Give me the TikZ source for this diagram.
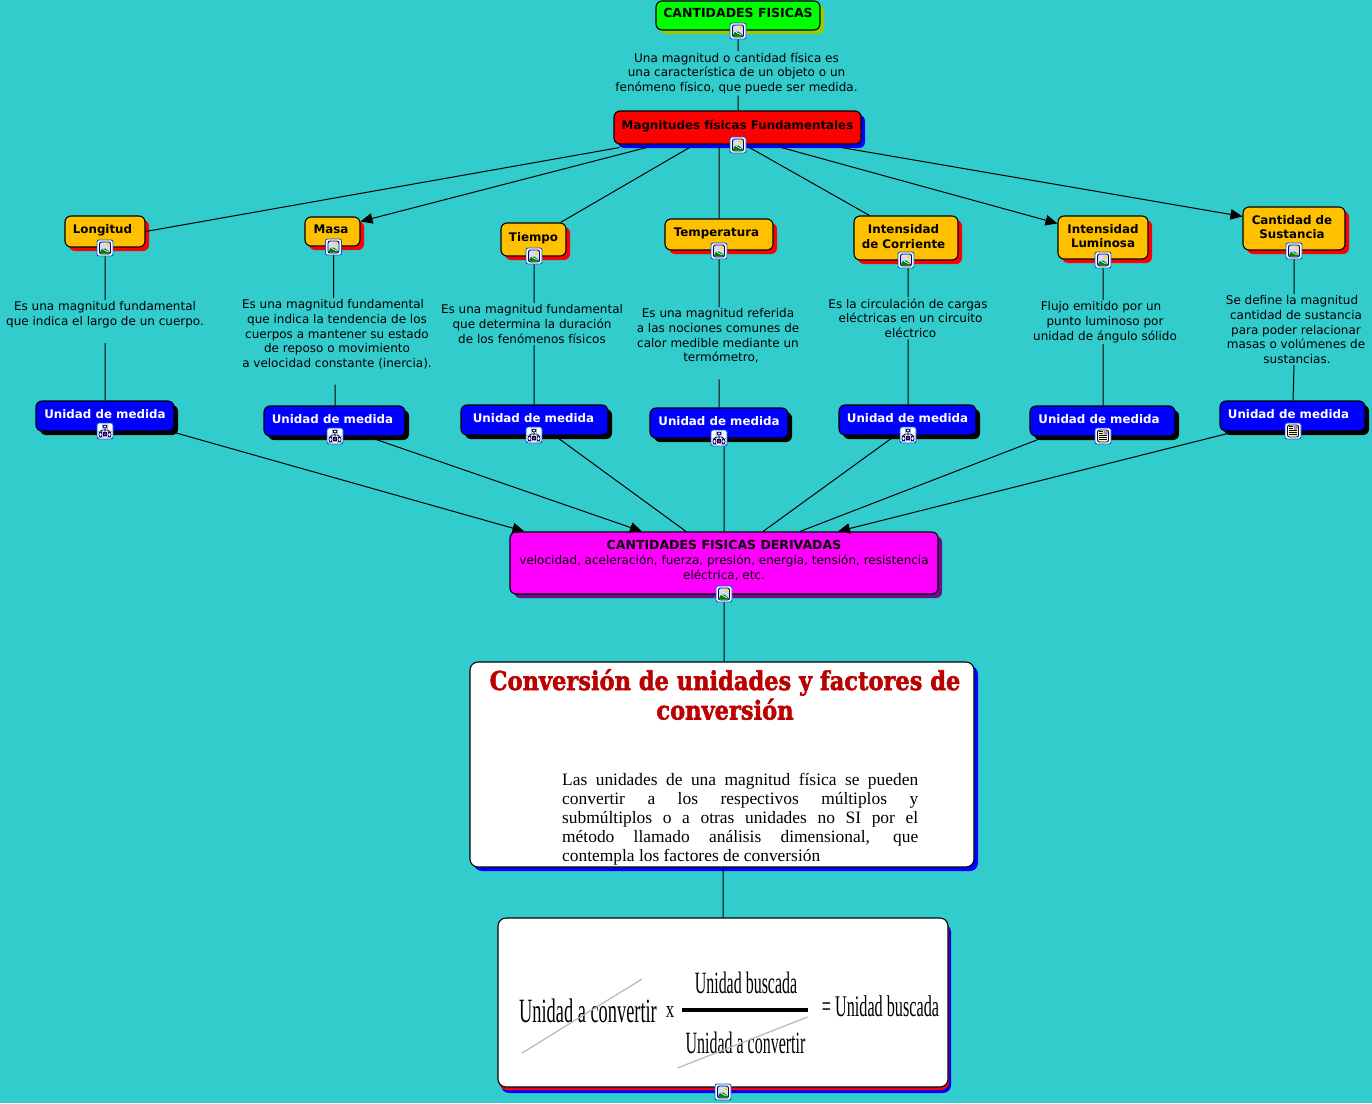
\documentclass[tikz,border=0pt]{standalone}
\usepackage{fontspec}
\setmainfont{DejaVu Sans}
\newfontfamily\seriffont{Liberation Serif}
\newfontfamily\titlefont[FakeBold=2]{DejaVu Serif Bold}
\usetikzlibrary{arrows.meta}
\usetikzlibrary{shadows}
\definecolor{bgteal}{HTML}{33CCCC}
\definecolor{conceptgold}{HTML}{FFC000}
\definecolor{titlered}{HTML}{BB0000}
\definecolor{limeshade}{HTML}{99CC00}
\definecolor{pinkbox}{HTML}{FF00FF}
\definecolor{purpleshade}{HTML}{6A0F8A}
\tikzset{
    concept/.style={
           rectangle,
           rounded corners=6pt,
           draw=black, line width=1.1pt,
           inner sep=0pt,
           align=center,
           text height=9pt, text depth=5pt,
           font=\fontsize{11.85}{14.6}\selectfont\bfseries,
           },
    castshadow/.style={
           general shadow={shadow xshift=4pt, shadow yshift=-4pt, fill=#1},
           },
    goldbox/.style={concept, fill=conceptgold, castshadow=red},
    twolines/.style={text height=23.6pt, text depth=3pt},
    unitbox/.style={concept, fill=blue, castshadow=black, text=white},
    whitebox/.style={concept, rounded corners=8pt, fill=white, castshadow=blue},
    note/.style={
           inner sep=1.5pt,
           anchor=north,
           align=center,
           font=\fontsize{12}{14.6}\selectfont,
           },
    link/.style={draw=black, line width=1pt},
    arrowlink/.style={link, -{Triangle[length=12pt,width=10.5pt]}},
    iconbox/.style={
           rectangle,
           rounded corners=2pt,
           draw=blue!55!cyan!80!black, fill=white, line width=0.9pt,
           minimum size=16pt,
           inner sep=0pt,
           },
    imgicon/.style={iconbox, path picture={
           \begin{scope}[shift={(path picture bounding box.center)}]
           \draw[fill=blue!15, draw=blue!40!black, line width=0.9pt] (-5.5,-6) rectangle (5.5,6);
           \fill[yellow!85!orange] (2.5,-3) circle (1.8);
           \fill[green!50!black] (-5,5.5) -- (-5,2.5) -- (-1,-0.5) -- (5,4) -- (5,5.5) -- cycle;
           \draw[white, line width=0.7pt] (-2.5,0.5) -- (0,3) -- (3,3.5);
           \end{scope}}},
    mapicon/.style={iconbox, path picture={
           \begin{scope}[shift={(path picture bounding box.center)}, draw=blue!40!black, line width=0.8pt]
           \draw (0,-3) -- (0,1.5) (-4.5,1) -- (-4.5,-1) -- (4.5,-1) -- (4.5,1);
           \draw[fill=white] (-2,-6) rectangle (2,-3);
           \draw[fill=white] (-6,1) rectangle (-3,6);
           \draw[fill=white] (3,1) rectangle (6,6);
           \draw[fill=orange!70!red] (-1.5,1.5) rectangle (1.5,5);
           \end{scope}}},
    docicon/.style={iconbox, path picture={
           \begin{scope}[shift={(path picture bounding box.center)}]
           \draw[fill=yellow!25, draw=blue!30!black, line width=0.9pt] (-5.5,-6) rectangle (5.5,6);
           \fill[blue!45] (0.5,-5.3) rectangle (4.7,-1);
           \fill[red!70] (2.5,-5.3) rectangle (4.7,-3.2);
           \draw[black, line width=0.8pt] (-4.2,-4.5) -- (-0.5,-4.5) (-4.2,-2.5) -- (-0.5,-2.5)
                 (-4.2,-0.5) -- (4.2,-0.5) (-4.2,1.5) -- (4.2,1.5) (-4.2,3.5) -- (4.2,3.5);
           \end{scope}}},
}

\begin{document}
\begin{tikzpicture}[x=1pt,y=-1pt]
      \fill[bgteal] (0,0) rectangle (1372,1103);
      \useasboundingbox (0,0) rectangle (1372,1103);

      % concepts, top
      \node[concept, fill=green, castshadow=limeshade, minimum width=164pt, minimum height=29pt, font=\fontsize{12.5}{14.6}\selectfont\bfseries] (cantidades) at (738,15.5) {CANTIDADES FISICAS};
      \node[concept, fill=red, castshadow=blue, minimum width=247pt, minimum height=33pt] (magnitudes) at (737.5,127.5) {Magnitudes físicas Fundamentales};
      \node[goldbox, minimum width=80pt, minimum height=31pt] (longitud) at (105,231.5) {Longitud\hspace*{5pt}};
      \node[goldbox, minimum width=55pt, minimum height=29pt] (masa) at (332.5,231.5) {Masa\hspace*{3pt}};
      \node[goldbox, minimum width=65pt, minimum height=33pt] (tiempo) at (533.5,239.5) {Tiempo};
      \node[goldbox, minimum width=108pt, minimum height=31pt] (temperatura) at (719,234.5) {Temperatura\hspace*{5pt}};
      \node[goldbox, twolines, minimum width=104pt, minimum height=44pt] (corriente) at (906,238) {Intensidad\hspace*{5pt}\\de Corriente\hspace*{5pt}};
      \node[goldbox, twolines, minimum width=90pt, minimum height=43pt] (luminosa) at (1103,237.5) {Intensidad\\Luminosa};
      \node[goldbox, twolines, minimum width=102pt, minimum height=43pt] (sustancia) at (1294,228.5) {Cantidad de\hspace*{4pt}\\Sustancia\hspace*{4pt}};

      % unidades
      \node[unitbox, minimum width=138pt, minimum height=30pt] (unidad1) at (105,416) {Unidad de medida};
      \node[unitbox, minimum width=141pt, minimum height=30pt] (unidad2) at (334.5,421) {Unidad de medida\hspace*{4pt}};
      \node[unitbox, minimum width=147pt, minimum height=30pt] (unidad3) at (534.5,420) {Unidad de medida\hspace*{2pt}};
      \node[unitbox, minimum width=138pt, minimum height=30pt] (unidad4) at (719,423) {Unidad de medida};
      \node[unitbox, minimum width=137pt, minimum height=30pt] (unidad5) at (907.5,420) {Unidad de medida};
      \node[unitbox, minimum width=145pt, minimum height=30pt] (unidad6) at (1102.5,421) {Unidad de medida\hspace*{7pt}};
      \node[unitbox, minimum width=145pt, minimum height=30pt] (unidad7) at (1292.5,416) {Unidad de medida\hspace*{8pt}};

      \node[concept, fill=pinkbox, castshadow=purpleshade, minimum width=428pt, minimum height=62pt] (derivadas) at (724,563) {};
      \node[note] (derivadastxt) at (724,539) {\fontsize{12.5}{14.6}\selectfont\textbf{CANTIDADES FISICAS DERIVADAS}\\\fontsize{12}{14.6}\selectfont velocidad, aceleración, fuerza, presión, energía, tensión, resistencia\\eléctrica, etc.};
      \node[whitebox, minimum width=504pt, minimum height=205pt] (conversion) at (722,764.5) {};
      \node[anchor=north, inner sep=0pt, align=center, text=titlered, xscale=0.867, transform shape, font=\titlefont\fontsize{26}{29.5}\selectfont] (convtitle) at (725,669) {Conversión de unidades y factores de\\conversión};
      \node[anchor=north west, inner sep=0pt, text width=356pt, align=justify, font=\seriffont\fontsize{17.4}{19}\selectfont] (convtext) at (562,773) {Las unidades de una magnitud física se pueden\linebreak convertir a los respectivos múltiplos y\linebreak submúltiplos o a otras unidades no SI por el\linebreak método llamado análisis dimensional, que\linebreak contempla los factores de conversión};
      \node[concept, rounded corners=8pt, fill=white, general shadow={shadow xshift=3pt, shadow yshift=-6pt, fill=blue}, general shadow={shadow xshift=1pt, shadow yshift=-3pt, fill=red}, minimum width=450pt, minimum height=169pt] (formula) at (723,1002.5) {};

      % notes
      \node[note] (magnitudtxt) at (736.5,51) {Una magnitud o cantidad física es\\una característica de un objeto o un\\fenómeno físico, que puede ser medida.};
      \node[note] (longitudtxt) at (105,300) {Es una magnitud fundamental\\que indica el largo de un cuerpo.\\[1.5pt]\mbox{}};
      \node[note] (masatxt) at (337,298) {Es una magnitud fundamental\hspace*{8pt}\\que indica la tendencia de los\hspace*{4pt}\\cuerpos a mantener su estado\hspace*{3pt}\\de reposo o movimiento\\a velocidad constante (inercia).\\[1pt]\mbox{}};
      \node[note] (tiempotxt) at (532,303) {Es una magnitud fundamental\\que determina la duración\\de los fenómenos físicos};
      \node[note] (temperaturatxt) at (718,307) {Es una magnitud referida\\a las nociones comunes de\hspace*{2pt}\\calor medible mediante un\hspace*{2pt}\\\hspace*{6pt}termómetro,\\[1.5pt]\mbox{}};
      \node[note] (corrientetxt) at (908,297) {Es la circulación de cargas\\\hspace*{5pt}eléctricas en un circuito\\\hspace*{5pt}eléctrico};
      \node[note] (luminosatxt) at (1105,300) {Flujo emitido por un\hspace*{8pt}\\punto luminoso por\hspace*{6pt}\\unidad de ángulo sólido};
      \node[note] (sustanciatxt) at (1296,294) {Se define la magnitud\hspace*{8pt}\\cantidad de sustancia\hspace*{7pt}\\para poder relacionar\hspace*{2pt}\\masas o volúmenes de\\\hspace*{2pt}sustancias.};

      % icons
      \node[imgicon] (icon0) at (738,31) {};
      \node[imgicon] (iconm) at (738,145) {};
      \node[imgicon] (icon1) at (105,248) {};
      \node[imgicon] (icon2) at (333.5,247) {};
      \node[imgicon] (icon3) at (534,256) {};
      \node[imgicon] (icon4) at (719,251) {};
      \node[imgicon] (icon5) at (906,260) {};
      \node[imgicon] (icon6) at (1103,260) {};
      \node[imgicon] (icon7) at (1294,251) {};
      \node[mapicon] (unit1) at (105,431) {};
      \node[mapicon] (unit2) at (335,436) {};
      \node[mapicon] (unit3) at (534,435) {};
      \node[mapicon] (unit4) at (719,438) {};
      \node[mapicon] (unit5) at (908,435) {};
      \node[docicon] (unit6) at (1103,436) {};
      \node[docicon] (unit7) at (1293,431) {};
      \node[imgicon] (icond) at (724,594) {};
      \node[imgicon] (iconf) at (723,1092) {};

      % formula
      \node[inner sep=0pt, font=\seriffont\fontsize{34}{34}\selectfont] (conv1) at (588,1011) {\scalebox{0.54}[1]{Unidad a convertir}};
      \node[inner sep=0pt, font=\seriffont\fontsize{24}{24}\selectfont] (por) at (670,1012) {\scalebox{0.7}[1]{x}};
      \node[inner sep=0pt, font=\seriffont\fontsize{31}{31}\selectfont] (busca1) at (746,983) {\scalebox{0.515}[1]{Unidad buscada}};
      \node[inner sep=0pt, font=\seriffont\fontsize{31}{31}\selectfont] (conv2) at (745.5,1043) {\scalebox{0.515}[1]{Unidad a convertir}};
      \node[inner sep=0pt, font=\seriffont\fontsize{30}{30}\selectfont] (busca2) at (880.5,1006) {\scalebox{0.54}[1]{= Unidad buscada}};
      \draw[black, line width=4pt] (682,1010) -- (808,1010);
      \draw[black!28, line width=1.2pt] ([shift={(3pt,-42pt)}]conv1.west) -- ([shift={(-15pt,32pt)}]conv1.east);
      \draw[black!28, line width=1.2pt] ([shift={(-8pt,-25pt)}]conv2.west) -- ([shift={(2pt,26pt)}]conv2.east);

      % links
      \path[link]
      (icon0) -- (magnitudtxt.north -| icon0)
      (magnitudtxt.south -| icon0) -- (magnitudes.north -| icon0)
      (icon1) -- (longitudtxt.north -| icon1)
      (longitudtxt.south -| icon1) -- (unidad1.north -| icon1)
      (icon2) -- (masatxt.north -| icon2)
      (masatxt.south -| unit2) -- (unidad2.north -| unit2)
      (icon3) -- (tiempotxt.north -| icon3)
      (tiempotxt.south -| icon3) -- (unidad3.north -| icon3)
      (icon4) -- (temperaturatxt.north -| icon4)
      (temperaturatxt.south -| icon4) -- (unidad4.north -| icon4)
      (icon5.south -| corrientetxt) -- (corrientetxt)
      (corrientetxt) -- (unidad5.north -| corrientetxt)
      (icon6) -- (luminosatxt.north -| icon6)
      (luminosatxt.south -| icon6) -- (unidad6.north -| icon6)
      (icon7) -- (sustanciatxt.north -| icon7)
      (sustanciatxt.south -| icon7) -- (unidad7.north -| unit7)
      (icond) -- (conversion.north -| icond)
      (conversion.south -| iconf) -- (formula.north -| iconf)
      ([shift={(6pt,-3pt)}]magnitudes.south west) -- (longitud.east)
      ([shift={(76pt,-3pt)}]magnitudes.south west) -- ([xshift=-6pt]tiempo.north east)
      ([shift={(-18.5pt,-3pt)}]magnitudes.south) -- (temperatura.north)
      ([shift={(12pt,-3pt)}]magnitudes.south) -- ([xshift=16pt]corriente.north west)
      ([shift={(21.5pt,-1pt)}]unidad3.south) -- ([xshift=-38pt]derivadas.north)
      (unit4.south -| derivadas) -- (derivadas.north)
      ([shift={(-15pt,-2pt)}]unidad5.south) -- ([xshift=39pt]derivadas.north)
      ([shift={(-62pt,-2pt)}]unidad6.south) -- ([xshift=76pt]derivadas.north);
      \path[arrowlink]
      ([shift={(33pt,-3pt)}]magnitudes.south west) -- ([yshift=-5pt]masa.north east);
      \path[arrowlink]
      ([shift={(44pt,-3pt)}]magnitudes.south) -- ([yshift=-8pt]luminosa.north west);
      \path[arrowlink]
      ([shift={(104pt,-3pt)}]magnitudes.south) -- ([yshift=-10pt]sustancia.north west);
      \path[arrowlink]
      ([yshift=-1pt]unidad1.south east) -- ([xshift=15pt]derivadas.north west);
      \path[arrowlink]
      ([shift={(36pt,-1pt)}]unidad2.south) -- ([xshift=-82pt]derivadas.north);
      \path[arrowlink]
      ([shift={(8pt,-2pt)}]unidad7.south west) -- ([xshift=114pt]derivadas.north);
\end{tikzpicture}
\end{document}
